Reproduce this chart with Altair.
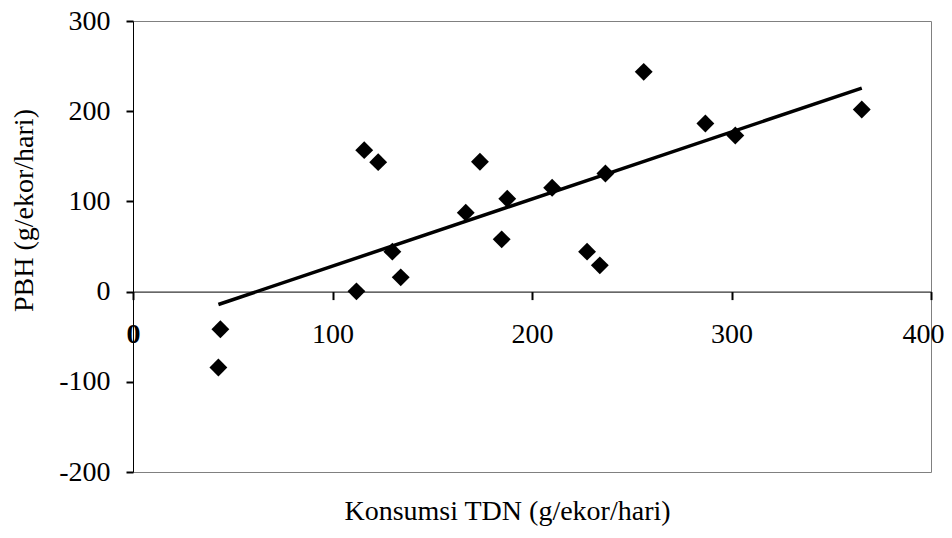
import altair as alt
import pandas as pd

# Data
tdn = [42.8, 43.8, 112.0, 115.9, 122.9, 130.0, 134.2, 166.8, 173.9, 184.8,
       187.6, 210.1, 227.6, 234.0, 236.8, 256.0, 286.9, 301.9, 365.3]
pbh = [-84.2, -41.8, 0.3, 156.8, 143.5, 44.3, 15.8, 87.5, 143.9, 57.9,
       103.0, 115.2, 44.3, 29.1, 131.0, 243.6, 186.4, 173.1, 201.9]

x_ticks = [0, 100, 200, 300, 400]
y_ticks = [-200, -100, 0, 100, 200, 300]

x_title = "Konsumsi TDN (g/ekor/hari)"
y_title = "PBH (g/ekor/hari)"

df = pd.DataFrame({"tdn": tdn, "pbh": pbh})

W, H = 798, 451
XMIN, XMAX = 0, 400
YMIN, YMAX = -200, 300
FONT = "Liberation Serif"
FS = 28
HYPHEN_LABEL = "replace(datum.label, '\u2212', '-')"

x_scale = alt.Scale(domain=[XMIN, XMAX], nice=False, zero=False)
y_scale = alt.Scale(domain=[YMIN, YMAX], nice=False, zero=False)

x_axis = alt.Axis(
    values=x_ticks, title=x_title, grid=False,
    offset=-H * (0 - YMIN) / (YMAX - YMIN),
    domainColor="black", domainWidth=1,
    tickColor="black", tickSize=8, tickWidth=2,
    labelFont=FONT, labelFontSize=FS, labelColor="black", labelPadding=21,
    labelFlush=False, labelOverlap=False, labelExpr=HYPHEN_LABEL,
    labelFontWeight={"condition": {"test": "datum.value == 0", "value": "bold"}, "value": "normal"},
    labelOffset={"condition": {"test": "datum.value == 400", "value": -8}, "value": 0},
    titleFont=FONT, titleFontSize=FS, titleFontWeight="normal", titleColor="black",
    titleX=374, titleY=228, titleAlign="center", titleBaseline="alphabetic",
)

y_axis = alt.Axis(
    values=y_ticks, title=y_title, grid=False,
    domainColor="black", domainWidth=1,
    tickColor="black", tickSize=7, tickWidth=2,
    labelFont=FONT, labelFontSize=FS, labelColor="black", labelPadding=16,
    labelFlush=False, labelOverlap=False, labelExpr=HYPHEN_LABEL,
    titleFont=FONT, titleFontSize=FS, titleFontWeight="normal", titleColor="black",
    titleX=-101, titleY=189, titleAngle=270, titleAlign="center",
    titleBaseline="alphabetic",
)

base = alt.Chart(df)

points = base.mark_point(shape="diamond", filled=True, size=320, color="black", opacity=1).encode(
    x=alt.X("tdn:Q", scale=x_scale, axis=x_axis),
    y=alt.Y("pbh:Q", scale=y_scale, axis=y_axis),
)

trend = base.transform_regression("tdn", "pbh").mark_line(color="black", strokeWidth=3.5).encode(
    x=alt.X("tdn:Q", scale=x_scale),
    y=alt.Y("pbh:Q", scale=y_scale),
)

chart = alt.layer(points, trend).properties(
    width=W, height=H,
    autosize=alt.AutoSizeParams(type="none"),
    padding={"left": 125, "top": 13, "right": 13, "bottom": 57},
    background="white",
).configure_view(stroke="#808080", strokeWidth=1)

chart.save("out.html", embed_options={"renderer": "svg", "actions": False})
